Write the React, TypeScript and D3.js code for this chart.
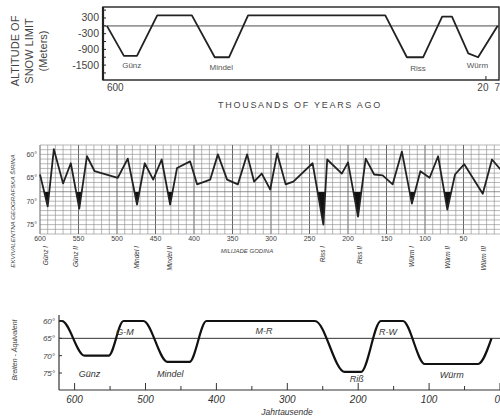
import * as d3 from "d3";

// panel 1: snow limit altitude (m) vs thousands of years ago
const snowAge = [600, 574, 554, 523, 470, 435, 413, 384, 174, 141, 116, 87, 72, 47, 32, 2];
const snowAlt = [0, -1150, -1150, 400, 400, -1200, -1200, 400, 400, -1200, -1200, 350, 350, -1050, -1200, 0];
const snowTicks = [300, -300, -900, -1500];
const snowLabels = [
  { t: "Günz", a: 562, v: -1620 },
  { t: "Mindel", a: 425, v: -1700 },
  { t: "Riss", a: 124, v: -1740 },
  { t: "Würm", a: 33, v: -1620 },
];

// panel 2: equivalent latitude (Milankovitch)
const latAge = [600, 590, 582, 570, 560, 549, 539, 529, 518, 499, 486, 474, 464, 453, 442, 431, 422, 405, 396, 379, 369, 357, 343, 331, 322, 312, 301, 292, 281, 271, 246, 232, 227, 208, 200, 187, 177, 166, 155, 142, 130, 117, 106, 94, 83, 71, 61, 49, 25, 13, 2];
const latVal = [64.3, 71.1, 58.9, 66.2, 61.9, 71.6, 60.4, 63.6, 64.1, 65, 60.9, 70.7, 61.9, 65.4, 61.1, 70.7, 62.9, 61.5, 66.4, 65.4, 60, 65.4, 66.4, 60, 65.8, 64.1, 67.5, 59.8, 66.4, 65.8, 61.9, 75, 61.1, 64.1, 61.7, 73.3, 60.9, 64.3, 64.5, 66.4, 59.4, 70.5, 63.6, 65, 60.4, 71.8, 64.3, 62.1, 68.4, 61.1, 63.2];
const latThreshold = 68;
const latTicks = [60, 65, 70, 75];
const latAgeTicks = [600, 550, 500, 450, 400, 350, 300, 250, 200, 150, 100, 50];
const stageNames = ["Günz I", "Günz II", "Mindel I", "Mindel II", "Riss I", "Riss II", "Würm I", "Würm II", "Würm III"];
const stageAges = [592, 553, 474, 431, 232, 184, 117, 70, 23];

// panel 3: Breiten-Äquivalent, generalised
const brAge = [622, 618, 586, 552, 531, 503, 469, 438, 414, 261, 219, 196, 168, 137, 106, 31, 12];
const brVal = [60, 60, 70, 70, 60, 60, 71.8, 71.8, 60, 60, 74.7, 74.7, 60, 60, 72.4, 72.4, 65];
const brTicks = [60, 65, 70, 75];
const brAgeTicks = [600, 500, 400, 300, 200, 100, 0];
const brMinor = [550, 450, 350, 250, 150, 50];
const brLabels = [
  { t: "Günz", a: 579, v: 76.2 },
  { t: "G-M", a: 529, v: 64 },
  { t: "Mindel", a: 465, v: 76.2 },
  { t: "M-R", a: 333, v: 63.8 },
  { t: "Riß", a: 202, v: 77.6 },
  { t: "R-W", a: 158, v: 64 },
  { t: "Würm", a: 68, v: 76.4 },
];

const FONT = "'Liberation Sans', Arial, sans-serif";

export default function App() {
  // ---- panel 1
  const x1 = d3.scaleLinear().domain([606, 0]).range([103, 499]);
  const y1 = d3.scaleLinear().domain([720, -2070]).range([7, 80]);
  const line1 = d3
    .line<number>()
    .x((d, i) => x1(snowAge[i]))
    .y((d) => y1(d));
  const minor1 = d3.range(600, -2000, -300);

  // ---- panel 2
  const x2 = d3.scaleLinear().domain([600, 0]).range([40, 502]);
  const y2 = d3.scaleLinear().domain([58, 77]).range([145, 234]);
  const line2 = d3
    .line<number>()
    .x((d, i) => x2(latAge[i]))
    .y((d) => y2(d));
  const area2 = d3
    .area<number>()
    .x((d, i) => x2(latAge[i]))
    .y0(y2(latThreshold))
    .y1((d) => y2(d));
  const vGrid = d3.range(600, -1, -10);
  const hGrid = d3.range(58, 77.1, 1);

  // ---- panel 3
  const x3 = d3.scaleLinear().domain([622, 0]).range([59, 500]);
  const y3 = d3.scaleLinear().domain([60, 75]).range([321, 373]);
  const line3 = d3
    .line<number>()
    .x((d, i) => x3(brAge[i]))
    .y((d) => y3(d))
    .curve(d3.curveMonotoneX);

  return (
    <svg
      width={500}
      height={420}
      style={{ position: "absolute", left: 0, top: 0, background: "#fff" }}
      fontFamily={FONT}
    >
      <rect width={500} height={420} fill="#fff" />

      {/* ============ panel 1 ============ */}
      <g fill="#444" fontSize={11}>
        <text transform="translate(19,51) rotate(-90)" textAnchor="middle">ALTITUDE OF</text>
        <text transform="translate(33,51) rotate(-90)" textAnchor="middle">SNOW LIMIT</text>
        <text transform="translate(47,51) rotate(-90)" textAnchor="middle">(Meters)</text>
      </g>
      <line x1={103} x2={499} y1={y1(0)} y2={y1(0)} stroke="#999" strokeWidth={1.6} />
      <path d={line1(snowAlt) || ""} fill="none" stroke="#222" strokeWidth={1.8} strokeLinejoin="round" />
      <rect x={103} y={7} width={396} height={73} fill="none" stroke="#222" strokeWidth={1.4} />
      <line x1={103} x2={103} y1={7} y2={80} stroke="#222" strokeWidth={2.2} />
      {minor1.map((v) => (
        <line key={v} x1={103} x2={106} y1={y1(v)} y2={y1(v)} stroke="#222" strokeWidth={1} />
      ))}
      {snowTicks.map((v) => (
        <text key={v} x={99} y={y1(v) + 3.5} textAnchor="end" fontSize={10.5} fill="#444">
          {v}
        </text>
      ))}
      <line x1={x1(20)} x2={x1(20)} y1={76} y2={80} stroke="#222" strokeWidth={1} />
      <text x={x1(600)} y={91} fontSize={10} fill="#444">600</text>
      <text x={x1(20) - 3} y={91} fontSize={10} fill="#444" textAnchor="middle">20</text>
      <text x={x1(7)} y={91} fontSize={10} fill="#444">7</text>
      {snowLabels.map((l) => (
        <text key={l.t} x={x1(l.a)} y={y1(l.v)} fontSize={8} fill="#555" textAnchor="middle">
          {l.t}
        </text>
      ))}
      <text x={300} y={108} fontSize={9} fill="#444" textAnchor="middle" letterSpacing={1.7}>
        THOUSANDS  OF  YEARS  AGO
      </text>

      {/* ============ panel 2 ============ */}
      <defs>
        <clipPath id="below">
          <rect x={40} y={y2(latThreshold)} width={462} height={234 - y2(latThreshold)} />
        </clipPath>
      </defs>
      <g>
        {vGrid.map((a) => (
          <line
            key={"v" + a}
            x1={x2(a)}
            x2={x2(a)}
            y1={145}
            y2={234}
            stroke={a % 50 === 0 ? "#555" : "#888"}
            strokeWidth={a % 50 === 0 ? 0.9 : 0.6}
          />
        ))}
        {hGrid.map((v) => (
          <line key={"h" + v} x1={40} x2={502} y1={y2(v)} y2={y2(v)} stroke="#888" strokeWidth={0.6} />
        ))}
      </g>
      <path d={area2(latVal) || ""} fill="#111" clipPath="url(#below)" />
      <path d={line2(latVal) || ""} fill="none" stroke="#222" strokeWidth={1.8} strokeLinejoin="round" />
      {latTicks.map((v) => (
        <text key={v} x={37} y={y2(v) + 2.5} fontSize={7} fill="#444" textAnchor="end">
          {v}°
        </text>
      ))}
      {latAgeTicks.map((a) => (
        <text key={a} x={x2(a)} y={241} fontSize={7} fill="#444" textAnchor="middle">
          {a}
        </text>
      ))}
      <text x={247} y={253} fontSize={6} fill="#444" textAnchor="middle" fontStyle="italic">
        MILIJADE GODINA
      </text>
      <text transform="translate(15,211) rotate(-90)" fontSize={6.2} fill="#444" textAnchor="middle" fontStyle="italic">
        EKVIVALENTNA GEOGRAFSKA ŠIRINA
      </text>
      {stageNames.map((n, i) => (
        <text
          key={n}
          transform={`translate(${x2(stageAges[i]) + 2},246) rotate(-90)`}
          fontSize={6.5}
          fill="#333"
          textAnchor="end"
          fontStyle="italic"
        >
          {n}
        </text>
      ))}

      {/* ============ panel 3 ============ */}
      <text transform="translate(17,350) rotate(-90)" fontSize={7} fill="#444" textAnchor="middle" fontStyle="italic">
        Breiten - Äquivalent
      </text>
      <line x1={59} x2={500} y1={y3(65)} y2={y3(65)} stroke="#333" strokeWidth={1} />
      <path d={line3(brVal) || ""} fill="none" stroke="#111" strokeWidth={2.2} />
      <line x1={59} x2={59} y1={315} y2={390} stroke="#333" strokeWidth={1.2} />
      <line x1={59} x2={500} y1={390} y2={390} stroke="#333" strokeWidth={1.2} />
      {brTicks.map((v) => (
        <g key={v}>
          <line x1={59} x2={62} y1={y3(v)} y2={y3(v)} stroke="#333" strokeWidth={1} />
          <text x={55} y={y3(v) + 3} fontSize={8} fill="#444" textAnchor="end" fontStyle="italic">
            {v}°
          </text>
        </g>
      ))}
      {brAgeTicks.map((a) => (
        <g key={a}>
          <line x1={x3(a)} x2={x3(a)} y1={383} y2={390} stroke="#333" strokeWidth={1} />
          <text
            x={a === 0 ? 500 : x3(a)}
            y={403}
            fontSize={10}
            fill="#333"
            textAnchor={a === 0 ? "end" : "middle"}
            fontStyle="italic"
          >
            {a}
          </text>
        </g>
      ))}
      {brMinor.map((a) => (
        <line key={a} x1={x3(a)} x2={x3(a)} y1={386} y2={390} stroke="#333" strokeWidth={1} />
      ))}
      <text x={287} y={415} fontSize={8.5} fill="#333" textAnchor="middle" fontStyle="italic">
        Jahrtausende
      </text>
      {brLabels.map((l) => (
        <text key={l.t} x={x3(l.a)} y={y3(l.v)} fontSize={9} fill="#333" textAnchor="middle" fontStyle="italic">
          {l.t}
        </text>
      ))}
    </svg>
  );
}
